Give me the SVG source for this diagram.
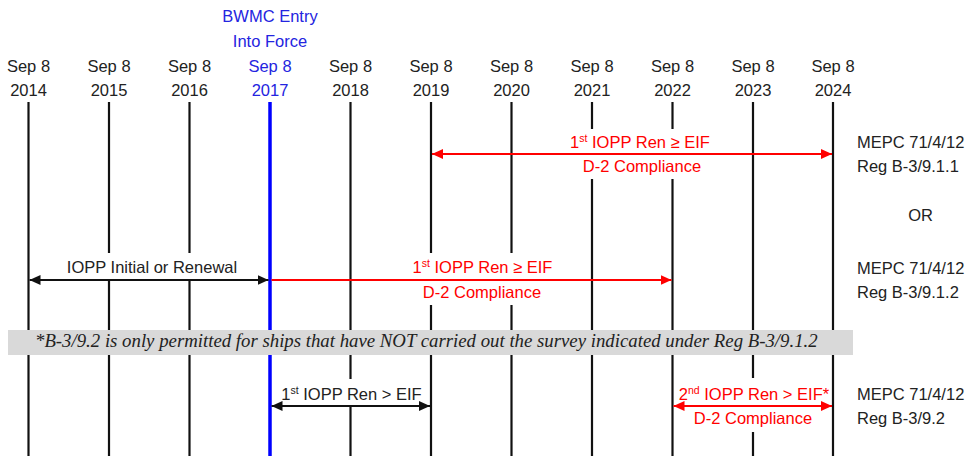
<svg xmlns="http://www.w3.org/2000/svg" width="970" height="456" viewBox="0 0 970 456">
<defs>
<style>
text{font-family:"Liberation Sans",Arial,sans-serif;font-size:16.5px;fill:#222}
.c{text-anchor:middle}
.red{fill:#ff0000}
.blue{fill:#2424e0}
.sup{font-size:10.5px}
.vl{stroke:#111;stroke-width:2.2}
.vb{stroke:#0000ff;stroke-width:3.5}
.mask{fill:#fff}
.ab{stroke:#111;stroke-width:2;fill:none}
.ar{stroke:#ff0000;stroke-width:2;fill:none}
.note{font-family:"Liberation Serif","Times New Roman",serif;font-style:italic;font-size:18.8px;fill:#222}
</style>
<marker id="mb" viewBox="0 0 11 10" refX="11" refY="5" markerWidth="11" markerHeight="10" markerUnits="userSpaceOnUse" orient="auto-start-reverse"><path d="M0,0 L11,5 L0,10 z" fill="#111"/></marker>
<marker id="mr" viewBox="0 0 11 10" refX="11" refY="5" markerWidth="11" markerHeight="10" markerUnits="userSpaceOnUse" orient="auto-start-reverse"><path d="M0,0 L11,5 L0,10 z" fill="#ff0000"/></marker>
</defs>
<rect width="970" height="456" fill="#fff"/>

<g id="header">
<text class="c blue" x="270" y="22">BWMC Entry</text>
<text class="c blue" x="270" y="47">Into Force</text>
<g id="years">
<text class="c" x="28.5" y="71.5">Sep 8</text><text class="c" x="28.5" y="96">2014</text>
<text class="c" x="109" y="71.5">Sep 8</text><text class="c" x="109" y="96">2015</text>
<text class="c" x="189.5" y="71.5">Sep 8</text><text class="c" x="189.5" y="96">2016</text>
<text class="c blue" x="270" y="71.5">Sep 8</text><text class="c blue" x="270" y="96">2017</text>
<text class="c" x="350.5" y="71.5">Sep 8</text><text class="c" x="350.5" y="96">2018</text>
<text class="c" x="431" y="71.5">Sep 8</text><text class="c" x="431" y="96">2019</text>
<text class="c" x="511.5" y="71.5">Sep 8</text><text class="c" x="511.5" y="96">2020</text>
<text class="c" x="592" y="71.5">Sep 8</text><text class="c" x="592" y="96">2021</text>
<text class="c" x="672.5" y="71.5">Sep 8</text><text class="c" x="672.5" y="96">2022</text>
<text class="c" x="753" y="71.5">Sep 8</text><text class="c" x="753" y="96">2023</text>
<text class="c" x="833" y="71.5">Sep 8</text><text class="c" x="833" y="96">2024</text>
</g>
</g>

<g id="timeline">
<line class="vl" x1="28.5" y1="102" x2="28.5" y2="456"/>
<line class="vl" x1="109" y1="102" x2="109" y2="456"/>
<line class="vl" x1="189.5" y1="102" x2="189.5" y2="456"/>
<line class="vl" x1="350.5" y1="102" x2="350.5" y2="456"/>
<line class="vl" x1="431" y1="102" x2="431" y2="456"/>
<line class="vl" x1="511.5" y1="102" x2="511.5" y2="456"/>
<line class="vl" x1="592" y1="102" x2="592" y2="456"/>
<line class="vl" x1="672.5" y1="102" x2="672.5" y2="456"/>
<line class="vl" x1="753" y1="102" x2="753" y2="456"/>
<line class="vl" x1="833" y1="102" x2="833" y2="456"/>
<line class="vb" x1="270" y1="102" x2="270" y2="456"/>
</g>

<g id="label-masks">
<rect class="mask" x="569" y="129" width="139" height="50"/>
<rect class="mask" x="60" y="253" width="186" height="27"/>
<rect class="mask" x="411" y="253" width="144" height="52"/>
<rect class="mask" x="280" y="379" width="143" height="27"/>
<rect class="mask" x="676" y="378" width="153" height="54"/>
</g>

<g id="connectors">
<line class="ar" x1="432" y1="154" x2="832" y2="154" marker-start="url(#mr)" marker-end="url(#mr)"/>
<line class="ab" x1="29.5" y1="280" x2="268.5" y2="280" marker-start="url(#mb)" marker-end="url(#mb)"/>
<line class="ar" x1="271.5" y1="280" x2="671.5" y2="280" marker-end="url(#mr)"/>
<line class="ab" x1="271.5" y1="406" x2="430" y2="406" marker-start="url(#mb)" marker-end="url(#mb)"/>
<line class="ar" x1="673.5" y1="406" x2="832" y2="406" marker-start="url(#mr)" marker-end="url(#mr)"/>
</g>

<g id="row1">
<text class="c red" x="640" y="148">1<tspan class="sup" dy="-6">st</tspan><tspan dy="6"> IOPP Ren ≥ EIF</tspan></text>
<text class="c red" x="642" y="172">D-2 Compliance</text>
<text x="857" y="148">MEPC 71/4/12</text>
<text x="857" y="172">Reg B-3/9.1.1</text>
</g>

<g id="or-label"><text class="c" x="920.5" y="221">OR</text></g>

<g id="row2">
<text class="c" x="152" y="273">IOPP Initial or Renewal</text>
<text class="c red" x="482.5" y="273">1<tspan class="sup" dy="-6">st</tspan><tspan dy="6"> IOPP Ren ≥ EIF</tspan></text>
<text class="c red" x="482" y="298">D-2 Compliance</text>
<text x="857" y="274">MEPC 71/4/12</text>
<text x="857" y="298">Reg B-3/9.1.2</text>
</g>

<g id="note">
<rect x="8" y="330" width="845" height="25" fill="#d9d9d9"/>
<text class="note" x="35" y="347">*B-3/9.2 is only permitted for ships that have NOT carried out the survey indicated under Reg B-3/9.1.2</text>
</g>

<g id="row3">
<text class="c" x="351.5" y="400">1<tspan class="sup" dy="-6">st</tspan><tspan dy="6"> IOPP Ren &gt; EIF</tspan></text>
<text class="c red" x="754" y="400">2<tspan class="sup" dy="-6">nd</tspan><tspan dy="6"> IOPP Ren &gt; EIF*</tspan></text>
<text class="c red" x="753" y="424">D-2 Compliance</text>
<text x="857" y="400">MEPC 71/4/12</text>
<text x="857" y="424">Reg B-3/9.2</text>
</g>
</svg>
